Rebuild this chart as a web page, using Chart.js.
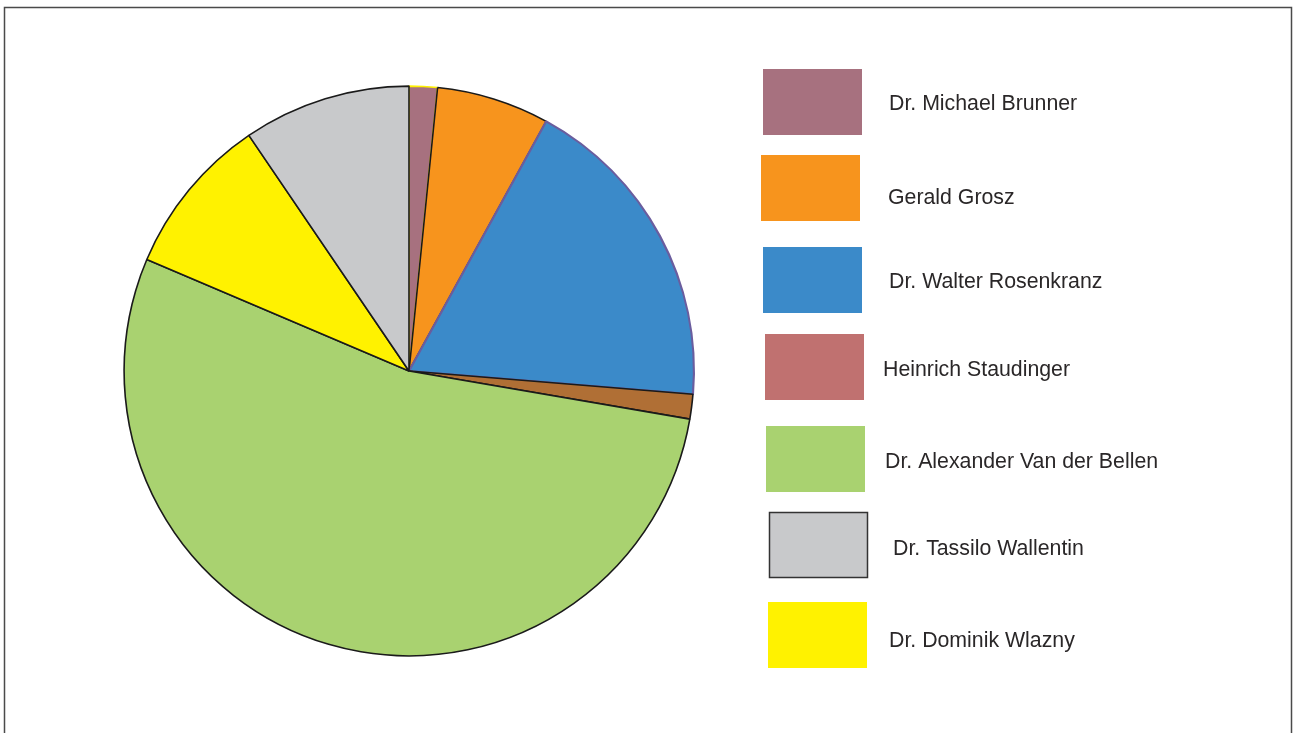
<!DOCTYPE html>
<html>
<head>
<meta charset="utf-8">
<script src="https://cdn.jsdelivr.net/npm/chart.js@4.4.1/dist/chart.umd.min.js"></script>
<style>
  html, body { margin: 0; padding: 0; background: #fff; }
  canvas { display: block; }
</style>
</head>
<body>
<canvas id="chart" width="1294" height="733"></canvas>
<script>
// Reihenfolge wie im Kreis (im Uhrzeigersinn ab 12 Uhr)
const candidates = [
  "Dr. Michael Brunner",
  "Gerald Grosz",
  "Dr. Walter Rosenkranz",
  "Heinrich Staudinger",
  "Dr. Alexander Van der Bellen",
  "Dr. Dominik Wlazny",
  "Dr. Tassilo Wallentin",
];
const shares = [1.6, 6.4, 18.3, 1.4, 53.7, 9.1, 9.5];
const sliceColors = ["#a7717f", "#f7941d", "#3b8ac9", "#b06f35", "#a9d270", "#fff200", "#c8c9cb"];
const sliceBorders = ["#fff200", "#1a1a1a", "#6a5d9e", "#1a1a1a", "#1a1a1a", "#1a1a1a", "#1a1a1a"];
const sliceBorderWidths = [1.6, 1.6, 2.2, 1.6, 1.6, 1.6, 1.6];

// Legende (eigene Reihenfolge)
const legendOrder = [
  "Dr. Michael Brunner",
  "Gerald Grosz",
  "Dr. Walter Rosenkranz",
  "Heinrich Staudinger",
  "Dr. Alexander Van der Bellen",
  "Dr. Tassilo Wallentin",
  "Dr. Dominik Wlazny",
];
const legendColors = ["#a7717f", "#f7941d", "#3b8ac9", "#c07170", "#a9d270", "#c8c9cb", "#fff200"];

// Positionen der Legendenkästchen und Texte
const legendLayout = [
  { bx: 763, by: 69, tx: 889, ty: 104 },
  { bx: 761, by: 155, tx: 888, ty: 198 },
  { bx: 763, by: 247, tx: 889, ty: 282 },
  { bx: 765, by: 334, tx: 883, ty: 370 },
  { bx: 766, by: 426, tx: 885, ty: 462 },
  { bx: 769, by: 512, tx: 893, ty: 549 },
  { bx: 768, by: 602, tx: 889, ty: 641 },
];

const framePlugin = {
  id: "frame",
  afterDraw(chart) {
    const ctx = chart.ctx;
    ctx.save();
    ctx.strokeStyle = "#4a4a4a";
    ctx.lineWidth = 1.5;
    ctx.beginPath();
    ctx.moveTo(4.5, 740);
    ctx.lineTo(4.5, 7.5);
    ctx.lineTo(1291.5, 7.5);
    ctx.lineTo(1291.5, 740);
    ctx.stroke();
    ctx.restore();
  },
};

const legendPlugin = {
  id: "boxLegend",
  afterDraw(chart) {
    const ctx = chart.ctx;
    ctx.save();
    ctx.font = '21.3px "Liberation Sans", Arial, sans-serif';
    ctx.textBaseline = "middle";
    ctx.textAlign = "left";
    legendOrder.forEach((name, i) => {
      const l = legendLayout[i];
      ctx.fillStyle = legendColors[i];
      ctx.fillRect(l.bx, l.by, 99, 66);
      if (name === "Dr. Tassilo Wallentin") {
        ctx.strokeStyle = "#333";
        ctx.lineWidth = 1.5;
        ctx.strokeRect(l.bx + 0.5, l.by + 0.5, 98, 65);
      }
      ctx.fillStyle = "#2a2728";
      ctx.fillText(name, l.tx, l.ty);
    });
    ctx.restore();
  },
};

new Chart(document.getElementById("chart"), {
  type: "pie",
  data: {
    labels: candidates,
    datasets: [
      {
        data: shares,
        backgroundColor: sliceColors,
        borderColor: sliceBorders,
        borderWidth: sliceBorderWidths,
      },
    ],
  },
  options: {
    responsive: false,
    animation: false,
    devicePixelRatio: 1,
    layout: {
      padding: { left: 123, top: 85, right: 599, bottom: 76 },
    },
    plugins: {
      legend: { display: false },
      tooltip: { enabled: false },
    },
  },
  plugins: [framePlugin, legendPlugin],
});
</script>
</body>
</html>
